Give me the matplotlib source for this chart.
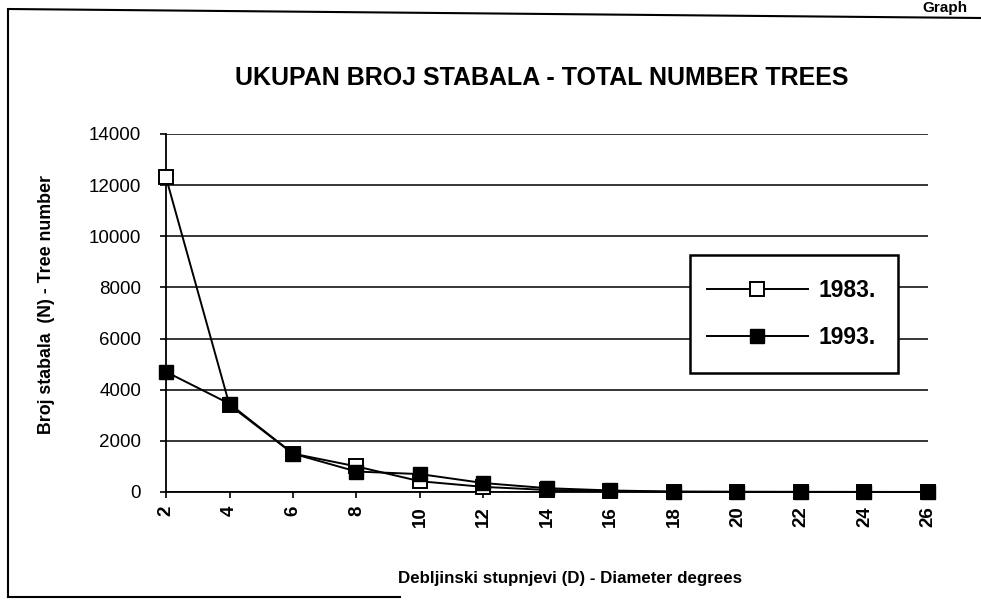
import matplotlib
matplotlib.use("Agg")
import matplotlib.pyplot as plt
from matplotlib.lines import Line2D
from matplotlib.patches import Rectangle

diameters = [2, 4, 6, 8, 10, 12, 14, 16, 18, 20, 22, 24, 26]
n_1983 = [12300, 3400, 1500, 1000, 420, 200, 80, 30, 10, 5, 3, 2, 1]
n_1993 = [4700, 3450, 1500, 800, 700, 350, 150, 60, 15, 8, 5, 3, 2]
y_ticks = [0, 2000, 4000, 6000, 8000, 10000, 12000, 14000]
series_labels = ["1983.", "1993."]

W, H = 981, 601
fig = plt.figure(figsize=(W / 100, H / 100), dpi=100)
fam = ["Liberation Sans", "DejaVu Sans"]
fam_n = ["Liberation Sans Narrow", "Liberation Sans", "DejaVu Sans"]

L, R, T, B = 166, 928, 134, 492
ax = fig.add_axes([L / W, 1 - B / H, (R - L) / W, (B - T) / H])
ax.set_xlim(2, 26)
ax.set_ylim(0, 14000)
ax.set_yticks(y_ticks)
ax.set_xticks(diameters)
ax.grid(axis="y", color="black", lw=1.1)
ax.set_axisbelow(True)
for s in ["top", "right"]:
    ax.spines[s].set_visible(False)
ax.spines["left"].set_linewidth(1.3)
ax.spines["bottom"].set_linewidth(1.3)
ax.tick_params(axis="y", length=4, width=1.2, labelsize=13.5, pad=14)
ax.tick_params(axis="x", length=4, width=1.2, labelsize=13.5, rotation=90, pad=6)
for lab in ax.get_yticklabels():
    lab.set_family(fam)
for lab in ax.get_xticklabels():
    lab.set_family(fam)
    lab.set_fontweight("bold")

ax.plot(diameters, n_1983, color="black", lw=1.4, marker="s", ms=10,
        mfc="white", mec="black", mew=1.4, clip_on=False, zorder=3, label=series_labels[0])
ax.plot(diameters, n_1993, color="black", lw=1.4, marker="s", ms=10,
        mfc="black", mec="black", clip_on=False, zorder=4, label=series_labels[1])

# legend box
ax.add_patch(Rectangle((690 / W, 1 - 373 / H), 208 / W, 118 / H, transform=fig.transFigure,
                       facecolor="white", edgecolor="black", lw=1.8, zorder=2.5,
                       clip_on=False))
leg = ax.legend(loc="upper left", bbox_to_anchor=(707 / W, 1 - 279 / H),
                bbox_transform=fig.transFigure,
                borderaxespad=0, borderpad=0, handlelength=4.4, frameon=False,
                labelspacing=1.05, handletextpad=0.45,
                prop={"family": fam, "weight": "bold", "size": 16.5})
leg.set_zorder(5)

fig.text(542 / W, 1 - 78 / H, "UKUPAN BROJ STABALA - TOTAL NUMBER TREES",
         ha="center", va="center", fontsize=18, fontweight="bold", family=fam)
fig.text(47 / W, 1 - 304 / H, "Broj stabala  (N) - Tree number", rotation=90,
         ha="center", va="center", fontsize=12.8, fontweight="bold", family=fam_n)
fig.text(570 / W, 1 - 579 / H, "Debljinski stupnjevi (D) - Diameter degrees",
         ha="center", va="center", fontsize=12.2, fontweight="bold", family=fam_n)
fig.text(922 / W, 1 - 1 / H, "Graph", ha="left", va="top", fontsize=11,
         fontweight="bold", family=fam)

# outer frame (scanned page border)
fig.add_artist(Line2D([8 / W, 8 / W], [1 - 10 / H, 1 - 597 / H], color="black", lw=1.5,
                      transform=fig.transFigure))
fig.add_artist(Line2D([8 / W, 1.0], [1 - 9 / H, 1 - 18 / H], color="black", lw=1.5,
                      transform=fig.transFigure))
fig.add_artist(Line2D([8 / W, 400 / W], [1 - 597 / H, 1 - 597 / H], color="black", lw=1.5,
                      transform=fig.transFigure))

fig.savefig("out.png", dpi=100)
